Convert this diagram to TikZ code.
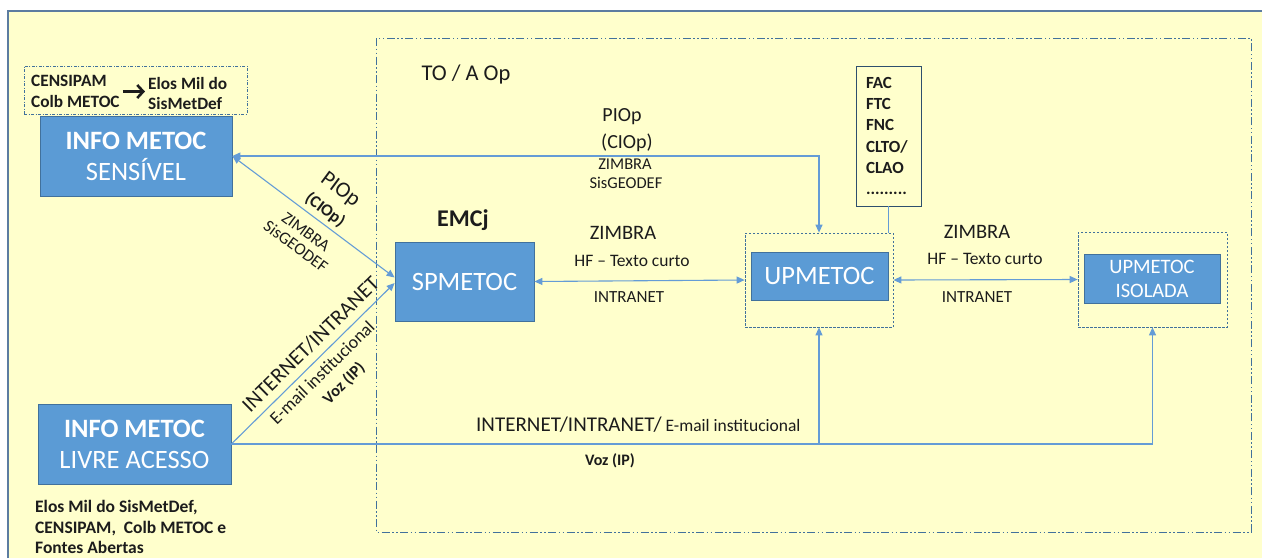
\documentclass[tikz,border=0pt]{standalone}
\usepackage{fontspec}
\setmainfont{Carlito}
\usepackage{tikz}
\usetikzlibrary{arrows.meta}
\usetikzlibrary{calc}

\definecolor{papel}{RGB}{255,255,204}
\definecolor{caixa}{RGB}{91,155,213}
\definecolor{borda}{RGB}{65,113,156}
\definecolor{linha}{RGB}{100,156,214}
\definecolor{moldura}{RGB}{92,124,160}
\definecolor{tinta}{RGB}{28,28,28}
\newcommand{\tam}[2]{\fontsize{#1}{#2}\selectfont}

\begin{document}
\begin{tikzpicture}[x=1pt,y=-1pt,
  metoc/.style={draw=borda,fill=caixa,text=white,align=center,inner sep=0pt,line width=0.8pt},
  pontilhado/.style={draw=borda,line width=0.7pt,dash pattern=on 2.5pt off 1.5pt,inner sep=0pt},
  rotulo/.style={text=tinta,inner sep=0pt,align=center},
  via/.style={draw=linha,line width=1.1pt},
  seta/.style={via,-{Triangle[length=8pt,width=7pt]}},
  duplaseta/.style={via,{Triangle[length=8pt,width=7pt]}-{Triangle[length=8pt,width=7pt]}}]
\useasboundingbox (0,0) rectangle (1262,558);
\fill[white] (0,0) rectangle (1262,558);
\fill[papel] (8,11) rectangle (1262,558);
\draw[moldura,line width=2.2pt] (8,558) -- (8,11) -- (1262,11);
\draw[borda,line width=0.8pt,dash pattern=on 8pt off 2.5pt on 1.5pt off 2.5pt on 1.5pt off 2.5pt] (376,38) rectangle (1251,532);
\node[rotulo,font=\tam{22.5}{27}] (toaop) at (466,74) {TO / A Op};

\node[draw=borda,line width=0.7pt,dash pattern=on 3pt off 1.5pt on 1pt off 1.5pt,minimum width=223pt,minimum height=48pt,inner sep=0pt] (origem) at (135.5,90) {};
\node[rotulo,anchor=west,align=left,font=\bfseries\tam{17.3}{21}] (cens) at (31,91.5) {CENSIPAM\\Colb METOC};
\node[rotulo,anchor=west,align=left,font=\bfseries\tam{17.3}{20}] (elos) at (148,93) {Elos Mil do\\SisMetDef};
\draw[tinta,line width=2.6pt,shorten <=3pt,shorten >=3pt,-{Straight Barb[length=6pt,width=13pt,line width=2.6pt]}] (cens.east) -- (elos.west |- cens.east);

\node[metoc,minimum width=192pt,minimum height=80pt,font=\tam{26.5}{31}] (sens) at (136,156) {\bfseries INFO METOC\\SENSÍVEL};
\node[metoc,minimum width=193pt,minimum height=80pt,font=\tam{26.5}{31}] (livre) at (134.5,444) {\bfseries INFO METOC\\LIVRE ACESSO};
\node[rotulo,anchor=west,align=left,font=\bfseries\tam{17.5}{20.5}] (fontes) at (35,527) {Elos Mil do SisMetDef,\\CENSIPAM,~~Colb METOC e\\Fontes Abertas};

\node[metoc,minimum width=139pt,minimum height=79pt,font=\tam{26.5}{31}] (spm) at (464.5,281.5) {SPMETOC};
\node[rotulo,font=\bfseries\tam{24}{28}] (emcj) at (463,220) {EMCj};

\node[pontilhado,minimum width=148pt,minimum height=94pt] (upm) at (819,280) {};
\node[metoc,minimum width=137pt,minimum height=48pt,font=\tam{26.5}{31}] (upmin) at (819.5,276) {UPMETOC};
\node[pontilhado,minimum width=149pt,minimum height=95pt] (iso) at (1152.5,279.5) {};
\node[metoc,minimum width=136pt,minimum height=49pt,font=\tam{20.5}{24}] (isoin) at (1152,278.5) {UPMETOC\\ISOLADA};

\node[draw=borda!70!black,line width=0.8pt,minimum width=65pt,minimum height=140pt,text width=45pt,inner xsep=10pt,inner ysep=0pt,align=left,text=tinta,font=\bfseries\tam{17}{21.3}] (fac) at (888.5,136) {FAC\\FTC\\FNC\\CLTO/\\CLAO\\.........};
\draw[via] (fac.south) -- (fac.south |- upm.north);

\draw[duplaseta] (sens.east) -| (upm.north);
\node[rotulo,font=\tam{20}{24}] (piop1) at (622,117) {PIOp};
\node[rotulo,font=\tam{20}{24}] (ciop1) at (627,143) {(CIOp)};
\node[rotulo,font=\tam{16.5}{20}] (zimbra1) at (625,164) {ZIMBRA};
\node[rotulo,font=\tam{16.5}{20}] (geodef1) at (626,183) {SisGEODEF};

\draw[duplaseta] (sens.east) -- ([yshift=4pt]spm.west);
\node[rotulo,rotate=-36.5,font=\tam{22}{26}] (piop2) at (340,190) {PIOp};
\node[rotulo,rotate=-36.5,font=\bfseries\tam{17}{20}] (ciop2) at (325,210) {(CIOp)};
\node[rotulo,rotate=-36.5,font=\tam{17}{20}] (zimbra2) at (306,232) {ZIMBRA};
\node[rotulo,rotate=-36.5,font=\tam{17}{20}] (geodef2) at (296,246) {SisGEODEF};

\draw[seta] (livre.east) -- ([yshift=-1.5pt]spm.west);
\node[rotulo,rotate=44.5,font=\tam{21.5}{26}] (inet1) at (310.5,344) {INTERNET/INTRANET};
\node[rotulo,rotate=44.5,font=\tam{18}{21}] (email1) at (322,372.5) {E-mail institucional};
\node[rotulo,rotate=44.5,font=\bfseries\tam{16.5}{20}] (voz1) at (344,383.5) {Voz (IP)};

\draw[duplaseta] (spm.east) -- (upm.west);
\node[rotulo,font=\tam{20.5}{24}] (zimbra3) at (623,233) {ZIMBRA};
\node[rotulo,font=\tam{17.5}{21}] (hf1) at (632,261) {HF -- Texto curto};
\node[rotulo,font=\tam{17}{20}] (intra1) at (629,297) {INTRANET};

\draw[duplaseta] (upm.east) -- (iso.west);
\node[rotulo,font=\tam{20.5}{24}] (zimbra4) at (977,232) {ZIMBRA};
\node[rotulo,font=\tam{17.5}{21}] (hf2) at (985,259) {HF -- Texto curto};
\node[rotulo,font=\tam{17}{20}] (intra2) at (977,297) {INTRANET};

\draw[seta] (livre.east) -| (iso.south);
\draw[seta] (livre.east -| upm.south) -- (upm.south);
\node[rotulo,anchor=west] (inet2) at (476,425) {\tam{21}{25}INTERNET/INTRANET/\tam{17.5}{21} E-mail institucional};
\node[rotulo,font=\bfseries\tam{16}{19}] (voz2) at (610,461) {Voz (IP)};
\end{tikzpicture}
\end{document}
